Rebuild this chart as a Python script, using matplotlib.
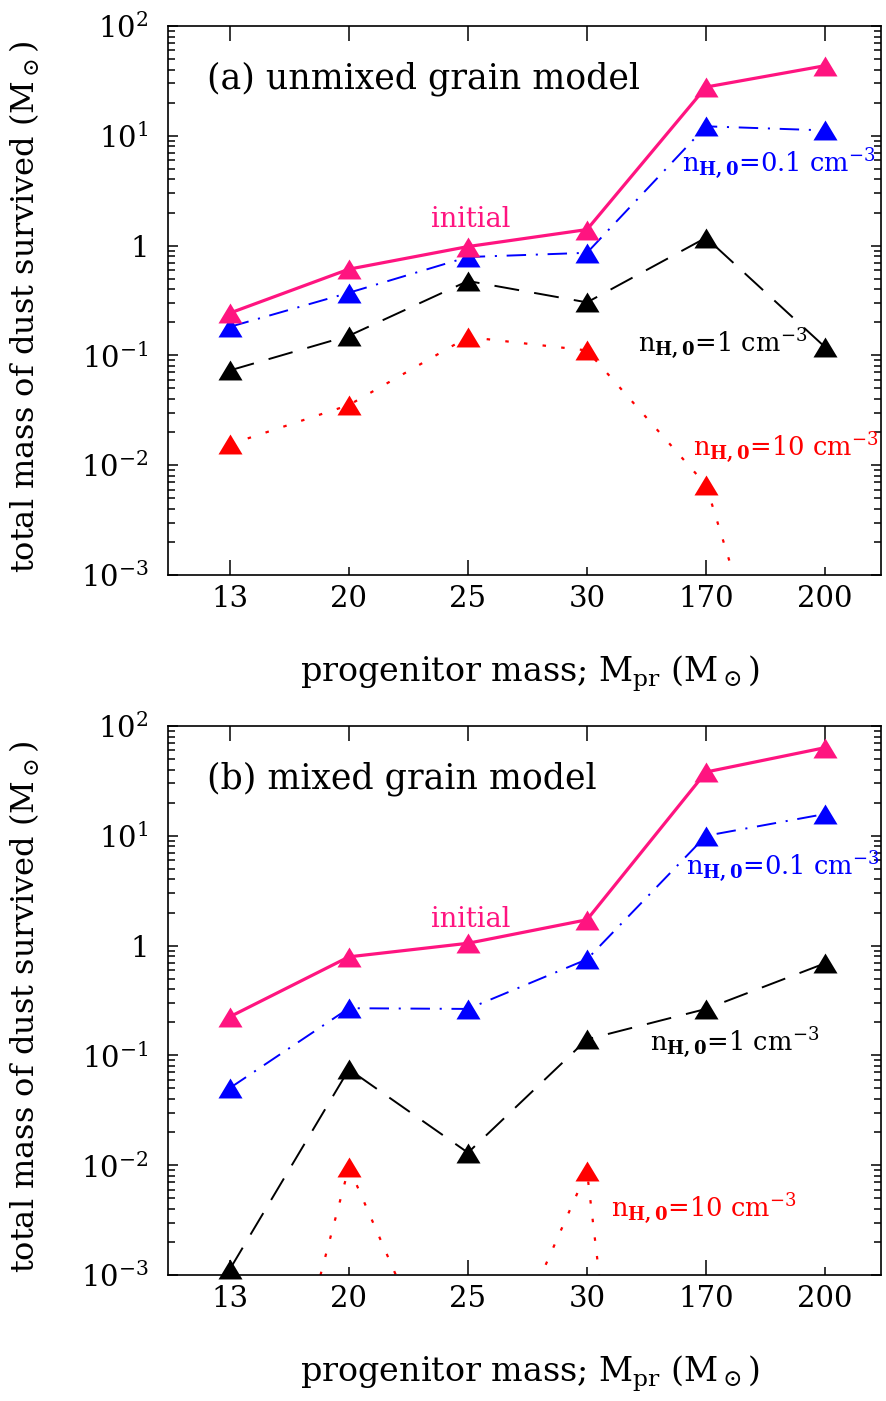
import numpy as np
import matplotlib
matplotlib.use("Agg")
import matplotlib.pyplot as plt
from matplotlib.ticker import LogLocator, FuncFormatter, NullFormatter

plt.rcParams['font.family'] = ['DejaVu Serif']
plt.rcParams['mathtext.fontset'] = 'dejavuserif'
plt.rcParams['lines.scale_dashes'] = False

# progenitor masses (categorical axis)
masses = ['13', '20', '25', '30', '170', '200']

# (a) unmixed grain model
a_initial = [0.243, 0.61, 0.98, 1.40, 27.8, 43.5]
a_n01 = [0.182, 0.372, 0.787, 0.86, 12.2, 11.2]
a_n1 = [0.073, 0.151, 0.476, 0.304, 1.18, 0.119]
a_n10 = [0.0155, 0.0353, 0.147, 0.111, 0.0066, 2e-6]

# (b) mixed grain model
b_initial = [0.225, 0.79, 1.05, 1.72, 38.1, 63.5]
b_n01 = [0.0505, 0.269, 0.265, 0.75, 10.0, 15.8]
b_n1 = [0.00113, 0.0747, 0.013, 0.140, 0.265, 0.69]
b_n10 = [7.4e-7, 0.0096, 3.1e-5, 0.0088, 5e-12, 1e-12]

PINK = '#ff1480'
tri = [(-1, -0.83), (1, -0.83), (0, 0.83)]
YMIN, YMAX = 1e-3, 1e2

styles = {
    'initial': dict(color=PINK, lw=2.3, ls='-'),
    'n01': dict(color='blue', lw=1.4, ls=(0, (14, 7, 1.5, 7))),
    'n1': dict(color='black', lw=1.4, ls=(0, (18, 11))),
    'n10': dict(color='red', lw=1.6, ls=(0, (2.5, 11))),
}


def draw_series(ax, vals, st):
    x = np.arange(len(masses))
    v = np.array(vals)
    ax.plot(x, v, color=st['color'], lw=st['lw'], ls=st['ls'], zorder=2)
    m = v >= YMIN
    ax.plot(x[m], v[m], ls='none', marker=tri, markersize=17.3,
            color=st['color'], markeredgewidth=0, zorder=3, clip_on=False)


def fmt_y(v, pos):
    n = int(round(np.log10(v)))
    if n == 0:
        return '1'
    return r'$10^{%d}$' % n


def setup_axes(ax):
    ax.set_yscale('log')
    ax.set_ylim(YMIN, YMAX)
    ax.set_xlim(-0.52, 5.47)
    ax.set_xticks(np.arange(len(masses)))
    ax.set_xticklabels(masses)
    ax.yaxis.set_major_locator(LogLocator(base=10))
    ax.yaxis.set_minor_locator(LogLocator(base=10, subs=np.arange(2, 10)))
    ax.yaxis.set_major_formatter(FuncFormatter(fmt_y))
    ax.yaxis.set_minor_formatter(NullFormatter())
    ax.tick_params(axis='y', which='major', direction='in', length=7, width=1.1,
                   right=True, labelsize=21, pad=14)
    ax.tick_params(axis='y', which='minor', direction='in', length=5, width=1.1,
                   right=True)
    ax.tick_params(axis='x', which='major', direction='in', length=11, width=1.1,
                   top=True, labelsize=21, pad=7)
    for i, t in enumerate(ax.xaxis.get_major_ticks()):
        t.tick1line.set_markersize(11 if i % 2 == 0 else 6)
    for s in ax.spines.values():
        s.set_linewidth(1.2)


def label_panel(ax, title, initial, n01, n1, n10, pos):
    setup_axes(ax)
    draw_series(ax, n10, styles['n10'])
    draw_series(ax, n1, styles['n1'])
    draw_series(ax, n01, styles['n01'])
    draw_series(ax, initial, styles['initial'])
    tr = ax.transAxes
    ax.text(0.054, 0.887, title, transform=tr, fontsize=25, va='baseline')
    ax.text(0.424, 0.633, 'initial', transform=tr, fontsize=19.5, color=PINK,
            ha='center', va='baseline')
    ax.text(pos[0][0], pos[0][1], r'n$_{\mathbf{H,0}}$=0.1 cm$^{-3}$', transform=tr,
            fontsize=18.5, color='blue', va='baseline')
    ax.text(pos[1][0], pos[1][1], r'n$_{\mathbf{H,0}}$=1 cm$^{-3}$', transform=tr,
            fontsize=18.5, color='black', va='baseline')
    ax.text(pos[2][0], pos[2][1], r'n$_{\mathbf{H,0}}$=10 cm$^{-3}$', transform=tr,
            fontsize=18.5, color='red', va='baseline')
    ax.text(0.508, -0.195, r'progenitor mass; M$_{\rm pr}$ (M$_\odot$)',
            transform=tr, fontsize=24, ha='center', va='baseline')
    ax.text(-0.200, 0.488, r'total mass of dust survived (M$_\odot$)',
            transform=tr, fontsize=23, rotation=90, ha='center', va='center')


fig = plt.figure(figsize=(8.86, 14.01), dpi=100)
W, H = 886, 1401
ax1 = fig.add_axes([168 / W, (H - 575) / H, 713 / W, 549 / H])
ax2 = fig.add_axes([168 / W, (H - 1275) / H, 713 / W, 549 / H])

label_panel(ax1, '(a) unmixed grain model', a_initial, a_n01, a_n1, a_n10,
            [(0.721, 0.734), (0.659, 0.406), (0.736, 0.217)])
label_panel(ax2, '(b) mixed grain model', b_initial, b_n01, b_n1, b_n10,
            [(0.727, 0.729), (0.676, 0.407), (0.622, 0.106)])

fig.savefig('out.png', dpi=100)
